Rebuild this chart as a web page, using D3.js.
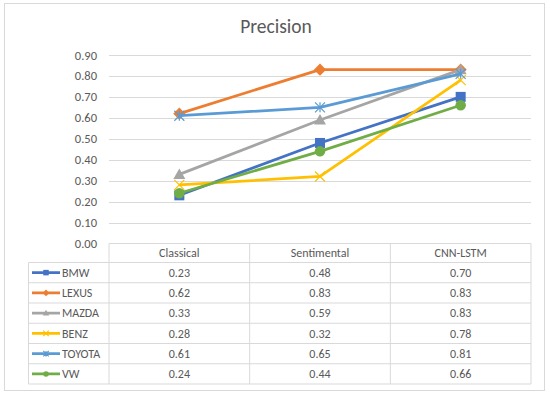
<!DOCTYPE html>
<html><head><meta charset="utf-8">
<script src="https://cdn.jsdelivr.net/npm/d3@7"></script>
<style>
body{margin:0;background:#fff;}
text{font-family:Carlito,Lato,"Liberation Sans",sans-serif;fill:#595959;}
</style></head>
<body><svg id="c" width="550" height="395"></svg>
<script>
const categories = ["Classical", "Sentimental", "CNN-LSTM"];
const seriesNames = ["BMW", "LEXUS", "MAZDA", "BENZ", "TOYOTA", "VW"];
const bmw = [0.23, 0.48, 0.70];
const lexus = [0.62, 0.83, 0.83];
const mazda = [0.33, 0.59, 0.83];
const benz = [0.28, 0.32, 0.78];
const toyota = [0.61, 0.65, 0.81];
const vw = [0.24, 0.44, 0.66];
const yTicks = [0, 0.1, 0.2, 0.3, 0.4, 0.5, 0.6, 0.7, 0.8, 0.9];
const colors = ["#4472C4", "#ED7D31", "#A5A5A5", "#FFC000", "#5B9BD5", "#70AD47"];
const markers = ["square", "diamond", "triangle", "x", "star", "circle"];
const series = seriesNames.map((n, i) => ({name: n, values: [bmw, lexus, mazda, benz, toyota, vw][i], color: colors[i], marker: markers[i]}));

const svg = d3.select("#c");
svg.append("rect").attr("x", 4.5).attr("y", 3.5).attr("width", 540).attr("height", 387)
  .attr("fill", "#fff").attr("stroke", "#D9D9D9");

svg.append("text").attr("x", 276).attr("y", 33).attr("text-anchor", "middle")
  .style("font-size", "19.5px").text("Precision");

const x = d3.scaleBand().domain(categories).range([109, 531]);
const y = d3.scaleLinear().domain([0, 0.9]).range([243.5, 55]);

// gridlines
svg.append("g").selectAll("line").data(yTicks.slice(1)).join("line")
  .attr("x1", 109).attr("x2", 531)
  .attr("y1", d => Math.round(y(d)) + 0.5).attr("y2", d => Math.round(y(d)) + 0.5)
  .attr("stroke", "#D9D9D9").attr("stroke-width", 1);

// y axis
const ya = svg.append("g").attr("transform", "translate(104,0)")
  .call(d3.axisLeft(y).tickValues(yTicks).tickFormat(d3.format(".2f")).tickSize(0).tickPadding(7));
ya.select(".domain").remove();
ya.selectAll("text").style("font-size", "12.5px").style("font-family", "Carlito,Lato,sans-serif").attr("fill", "#595959");

// table
const rowTop = 262.5, rowH = 20.25, headTop = 243.5;
const tg = svg.append("g");
const colEdges = [109].concat(categories.map(c => x(c) + x.bandwidth()));
colEdges.forEach(cx => tg.append("line").attr("x1", cx).attr("x2", cx).attr("y1", headTop).attr("y2", rowTop + rowH * 6).attr("stroke", "#D9D9D9"));
tg.append("line").attr("x1", 28.5).attr("x2", 28.5).attr("y1", rowTop).attr("y2", rowTop + rowH * 6).attr("stroke", "#D9D9D9");
tg.append("line").attr("x1", 109).attr("x2", 531).attr("y1", headTop).attr("y2", headTop).attr("stroke", "#D9D9D9");
for (let i = 0; i <= 6; i++) {
  tg.append("line").attr("x1", 28.5).attr("x2", 531).attr("y1", rowTop + rowH * i).attr("y2", rowTop + rowH * i).attr("stroke", "#D9D9D9");
}
tg.selectAll("text.h").data(categories).join("text").attr("class", "h")
  .attr("x", d => x(d) + x.bandwidth() / 2).attr("y", headTop + 13.5)
  .attr("text-anchor", "middle").style("font-size", "12px").text(d => d);

function drawMarker(g, type, cx, cy, color, s) {
  if (type === "square") {
    g.append("rect").attr("x", cx - s / 2).attr("y", cy - s / 2).attr("width", s).attr("height", s).attr("fill", color);
  } else if (type === "diamond") {
    g.append("path").attr("d", d3.symbol(d3.symbolDiamond2, s * s * 0.95)()).attr("transform", `translate(${cx},${cy})`).attr("fill", color);
  } else if (type === "triangle") {
    g.append("path").attr("d", `M${cx},${cy - s * 0.6}L${cx + s * 0.6},${cy + s * 0.45}L${cx - s * 0.6},${cy + s * 0.45}Z`).attr("fill", color);
  } else if (type === "x") {
    const h = s / 2;
    g.append("path").attr("d", `M${cx - h},${cy - h}L${cx + h},${cy + h}M${cx - h},${cy + h}L${cx + h},${cy - h}`).attr("stroke", color).attr("stroke-width", 1.2).attr("fill", "none");
  } else if (type === "star") {
    const h = s / 2;
    g.append("path").attr("d", `M${cx - h},${cy - h}L${cx + h},${cy + h}M${cx - h},${cy + h}L${cx + h},${cy - h}M${cx},${cy - h}L${cx},${cy + h}`).attr("stroke", color).attr("stroke-width", 1.2).attr("fill", "none");
  } else if (type === "circle") {
    g.append("circle").attr("cx", cx).attr("cy", cy).attr("r", s / 2).attr("fill", color);
  }
}

series.forEach((s, i) => {
  const ry = rowTop + rowH * i + rowH / 2;
  const lg = tg.append("g");
  lg.append("line").attr("x1", 32).attr("x2", 60).attr("y1", ry).attr("y2", ry).attr("stroke", s.color).attr("stroke-width", 2.75);
  drawMarker(lg, s.marker, 46, ry, s.color, 5.5);
  lg.append("text").attr("x", 62).attr("y", ry + 4.2).style("font-size", "12px").text(s.name);
  tg.selectAll(null).data(s.values).join("text")
    .attr("x", (d, j) => x(categories[j]) + x.bandwidth() / 2).attr("y", ry + 4.2)
    .attr("text-anchor", "middle").style("font-size", "12px").text(d => d3.format(".2f")(d));
});

// lines
const line = d3.line().x((d, j) => x(categories[j]) + x.bandwidth() / 2).y(d => y(d));
series.forEach(s => {
  const g = svg.append("g");
  g.append("path").datum(s.values).attr("d", line).attr("fill", "none").attr("stroke", s.color).attr("stroke-width", 2.75).attr("stroke-linejoin", "round");
  s.values.forEach((v, j) => drawMarker(g, s.marker, x(categories[j]) + x.bandwidth() / 2, y(v), s.color, s.marker === "circle" ? 10.5 : 10));
});
</script></body></html>
